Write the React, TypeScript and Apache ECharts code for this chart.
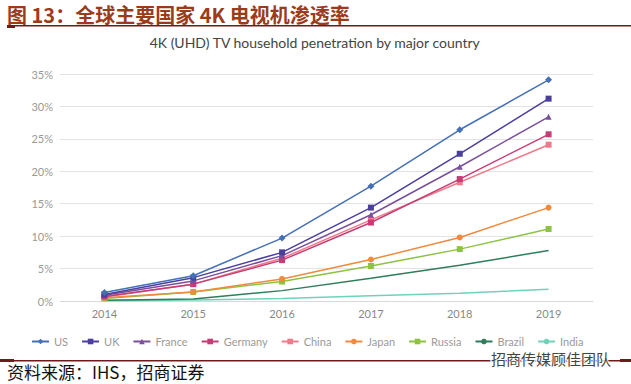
import React, { useEffect, useRef } from "react";
import * as echarts from "echarts";

const years = ["2014", "2015", "2016", "2017", "2018", "2019"];
const yTicks = [0, 5, 10, 15, 20, 25, 30, 35];

const us = [1.3, 3.9, 9.7, 17.7, 26.4, 34.1];
const uk = [1.0, 3.6, 7.5, 14.4, 22.7, 31.2];
const france = [0.9, 3.1, 7.0, 13.3, 20.7, 28.4];
const germany = [0.7, 2.6, 6.3, 12.1, 18.8, 25.7];
const china = [0.6, 2.6, 6.6, 12.5, 18.3, 24.1];
const japan = [0.5, 1.4, 3.4, 6.4, 9.8, 14.4];
const russia = [0.4, 1.4, 3.0, 5.4, 8.0, 11.1];
const brazil = [0.1, 0.3, 1.6, 3.5, 5.5, 7.8];
const india = [0.05, 0.15, 0.4, 0.8, 1.2, 1.8];

const seriesNames = ["US", "UK", "France", "Germany", "China", "Japan", "Russia", "Brazil", "India"];
const seriesData = [us, uk, france, germany, china, japan, russia, brazil, india];
const seriesColors = ["#4470b6", "#4a3f9f", "#7a4f9c", "#c63c74", "#f07a8a", "#f08a3c", "#8cc440", "#2e7d5b", "#6fd3b9"];
const seriesSymbols = ["diamond", "rect", "triangle", "rect", "rect", "circle", "rect", "none", "none"];

export default function App() {
  const ref = useRef<HTMLDivElement>(null);
  useEffect(() => {
    document.body.style.margin = "0";
    const chart = echarts.init(ref.current!, null, { renderer: "svg" });
    const series = seriesNames.map((name, i) => ({
      name,
      type: "line",
      data: seriesData[i],
      symbol: seriesSymbols[i],
      symbolSize: seriesSymbols[i] === "diamond" ? 7 : 6,
      showSymbol: seriesSymbols[i] !== "none",
      lineStyle: { width: 1.5, color: seriesColors[i] },
      itemStyle: { color: seriesColors[i] },
      z: 10 - i,
    }));
    chart.setOption({
      animation: false,
      backgroundColor: "#ffffff",
      grid: { left: 60, right: 38, top: 74, bottom: 83, containLabel: false },
      xAxis: {
        type: "category",
        data: years,
        boundaryGap: true,
        axisLine: { show: true, lineStyle: { color: "#d9d9d9" } },
        axisTick: { show: false },
        axisLabel: { color: "#888", fontSize: 11, fontFamily: "Lato", margin: 7 },
      },
      yAxis: {
        type: "value",
        min: 0,
        max: 35,
        interval: 5,
        axisLine: { show: false },
        axisTick: { show: false },
        splitLine: { lineStyle: { color: "#e3e3e3", width: 1.2 } },
        axisLabel: {
          color: "#999",
          fontSize: 11,
          fontFamily: "Lato",
          margin: 7,
          formatter: (v: number) => (yTicks.includes(v) ? v + "%" : ""),
        },
      },
      legend: {
        data: seriesNames,
        left: 26,
        top: 331,
        width: 605,
        itemWidth: 17,
        itemHeight: 7,
        itemGap: 13,
        textStyle: { color: "#9a9a9a", fontSize: 11, fontFamily: "Lato" },
      },
      graphic: [
        {
          type: "text",
          left: 7,
          top: 4,
          style: {
            text: "图 13：全球主要国家 4K 电视机渗透率",
            fill: "#9a3b1c",
            fontSize: 20,
            lineHeight: 20,
            fontWeight: "bold",
            fontFamily: "Noto Sans CJK SC",
          },
        },
        { type: "rect", shape: { x: 7, y: 25, width: 624, height: 1.5 }, style: { fill: "#6e1a1a" } },
        { type: "rect", shape: { x: 7, y: 25, width: 8, height: 3 }, style: { fill: "#6e1a1a" } },
        {
          type: "text",
          left: "center",
          top: 35,
          style: {
            text: "4K (UHD) TV household penetration by major country",
            fill: "#444",
            fontSize: 14,
            fontFamily: "Lato",
          },
        },
        { type: "rect", shape: { x: 0, y: 360, width: 631, height: 1.5 }, style: { fill: "#6e1a1a" } },
        { type: "rect", shape: { x: 0, y: 359, width: 14, height: 3 }, style: { fill: "#6e1a1a" } },
        { type: "rect", shape: { x: 620, y: 359, width: 11, height: 3 }, style: { fill: "#6e1a1a" } },
        {
          type: "text",
          left: 7,
          top: 363,
          style: {
            text: "资料来源：IHS，招商证券",
            fill: "#111",
            fontSize: 17,
            fontFamily: "Noto Sans CJK SC",
          },
        },
        {
          type: "text",
          left: 490,
          top: 350,
          style: {
            text: "招商传媒顾佳团队",
            fill: "#444",
            fontSize: 15,
            lineHeight: 15,
            fontFamily: "Noto Sans CJK SC",
            stroke: "#fff",
            lineWidth: 2,
          },
        },
      ],
      series,
    });
    return () => chart.dispose();
  }, []);
  return <div ref={ref} style={{ width: 631, height: 384 }} />;
}
